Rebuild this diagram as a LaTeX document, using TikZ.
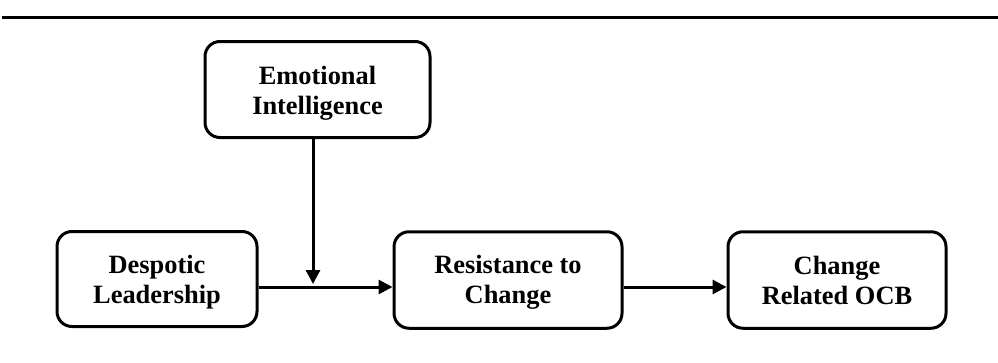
\documentclass[tikz,border=0pt]{standalone}
\usepackage{fontspec}
\setmainfont{Liberation Serif}
\usetikzlibrary{arrows.meta}
\begin{document}
\begin{tikzpicture}[x=1pt,y=-1pt,
  box/.style={draw,line width=3pt,rounded corners=15pt,inner sep=0pt},
  txt/.style={inner sep=0pt,align=center,font=\fontsize{26.4}{30}\selectfont\bfseries},
  conn/.style={line width=3pt,-{Triangle[length=14pt,width=14pt]}}]
\useasboundingbox (0,0) rectangle (998,362);
\coordinate (r1) at (2,17);
\coordinate (r2) at (998,17);
\draw[line width=3pt] (r1) -- (r2);
\node[box,minimum width=225pt,minimum height=96pt] (EI) at (317.5,89.5) {};
\node[box,minimum width=200pt,minimum height=95pt] (DL) at (157,279) {};
\node[box,minimum width=228pt,minimum height=96.5pt] (RC) at (508,280) {};
\node[box,minimum width=218pt,minimum height=96.5pt] (CO) at (837,280) {};
\node[txt] (EIt) at (317.5,93) {\strut Emotional\\Intelligence\strut};
\node[txt] (DLt) at (157,282) {\strut Despotic\\Leadership\strut};
\node[txt] (RCt) at (508,282) {\strut Resistance to\\Change\strut};
\node[txt] (COt) at (837,283) {\strut Change\\Related OCB\strut};
\coordinate (m) at (313,287);
\coordinate (mt) at (313,284);
\draw[conn] (DL.east |- m) -- (RC.west |- m);
\draw[conn] (EI.south -| m) -- (mt);
\draw[conn] (RC.east |- m) -- (CO.west |- m);
\end{tikzpicture}
\end{document}
